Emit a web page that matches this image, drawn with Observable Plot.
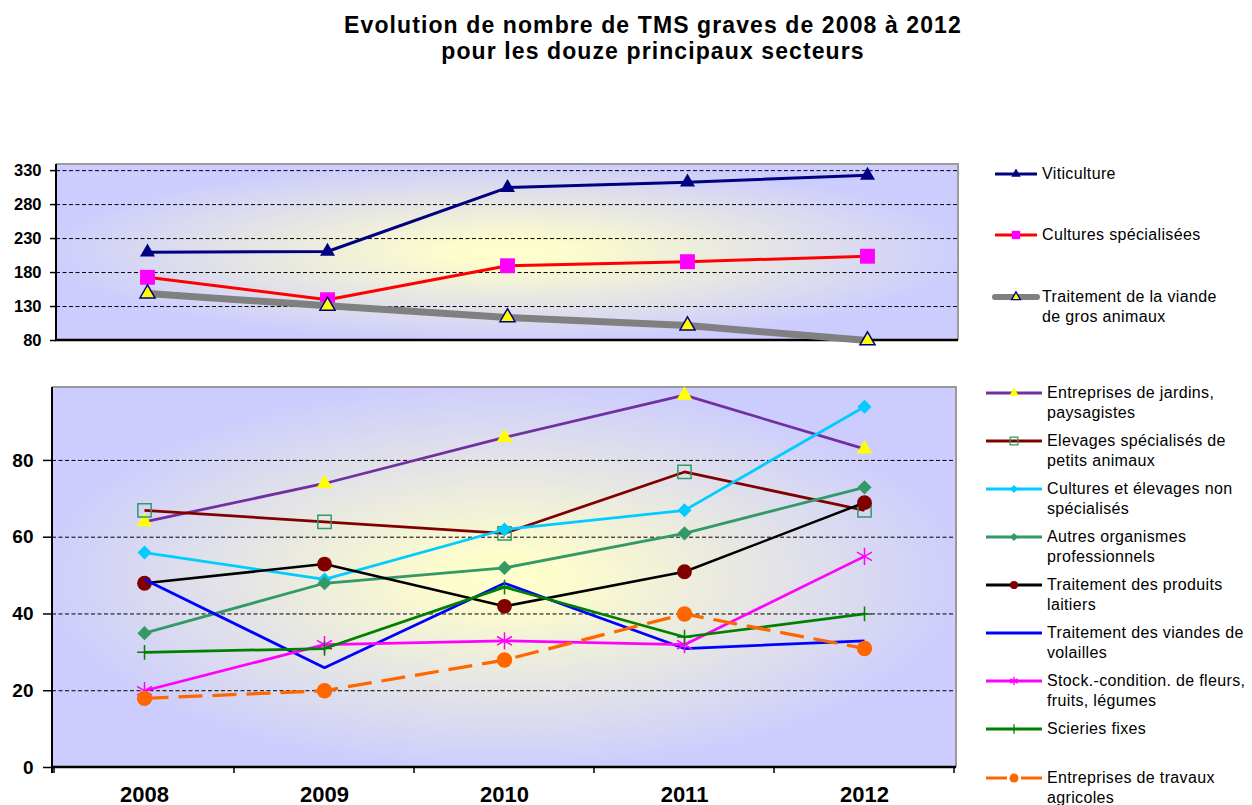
<!DOCTYPE html>
<html><head><meta charset="utf-8">
<script src="https://cdn.jsdelivr.net/npm/d3@7"></script>
<script src="https://cdn.jsdelivr.net/npm/@observablehq/plot@0.6"></script>
<style>
body{margin:0;background:#fff;overflow:hidden;}
#root{position:relative;width:1252px;height:805px;font-family:"Liberation Sans",Arial,sans-serif;color:#000;}
#title{position:absolute;left:153px;width:1000px;top:12px;text-align:center;font-weight:bold;font-size:23px;line-height:26px;letter-spacing:1.1px;}
.panel{position:absolute;left:0;}
.leg{position:absolute;font-size:16px;line-height:20px;letter-spacing:0.35px;white-space:pre-line;}
.leg svg{position:absolute;left:0;top:0;overflow:visible;}
</style></head><body><div id="root">
<div id="title">Evolution de nombre de TMS graves de 2008 à 2012<br>pour les douze principaux secteurs</div>
<div id="topPanel" class="panel" style="top:150px"></div>
<div id="bottomPanel" class="panel" style="top:370px"></div>
<div id="legends"></div>
</div>
<script>
const FONT = '"Liberation Sans", Arial, sans-serif';

// ---- data ----
const years = ["2008", "2009", "2010", "2011", "2012"];
const topTicks = [80, 130, 180, 230, 280, 330];
const bottomTicks = [0, 20, 40, 60, 80];
const topDomain = [80, 339];
const bottomDomain = [0, 99];

const topNames = ["Viticulture", "Cultures spécialisées", "Traitement de la viande\nde gros animaux"];
const viticulture = [210, 211, 305, 313, 323];
const culturesSpecialisees = [173, 140, 190, 196, 204];
const viandeGrosAnimaux = [149, 131, 114, 102, 80];

const bottomNames = [
  "Entreprises de jardins,\npaysagistes",
  "Elevages spécialisés de\npetits animaux",
  "Cultures et élevages non\nspécialisés",
  "Autres organismes\nprofessionnels",
  "Traitement des produits\nlaitiers",
  "Traitement des viandes de\nvolailles",
  "Stock.-condition. de fleurs,\nfruits, légumes",
  "Scieries fixes",
  "Entreprises de travaux\nagricoles"
];
const jardinsPaysagistes = [64, 74, 86, 97, 83];
const elevagesPetitsAnimaux = [67, 64, 61, 77, 67];
const culturesElevagesNonSpec = [56, 49, 62, 67, 94];
const autresOrganismes = [35, 48, 52, 61, 73];
const produitsLaitiers = [48, 53, 42, 51, 69];
const viandesVolailles = [49, 26, 48, 31, 33];
const stockFleursFruits = [20, 32, 33, 32, 55];
const scieriesFixes = [30, 31, 47, 34, 40];
const travauxAgricoles = [18, 20, 28, 40, 31];

const topValues = [viticulture, culturesSpecialisees, viandeGrosAnimaux];
const bottomValues = [jardinsPaysagistes, elevagesPetitsAnimaux, culturesElevagesNonSpec, autresOrganismes,
  produitsLaitiers, viandesVolailles, stockFleursFruits, scieriesFixes, travauxAgricoles];

// ---- styles ----
const topStyles = [
  {stroke: "#000080", sw: 3, symbol: "triangle", r: 5.6, fill: "#000080", ms: "none", msw: 0, legSize: 38, legSw: 3},
  {stroke: "#FF0000", sw: 3, symbol: "square", r: 8.4, fill: "#FF00FF", ms: "none", msw: 0, legSize: 70, legSw: 3},
  {stroke: "#808080", sw: 7, cap: "round", symbol: "triangle", r: 5.6, fill: "#FFFF00", ms: "#000080", msw: 1.5, legSize: 34, legSw: 6}
];
const bottomStyles = [
  {stroke: "#7030A0", sw: 2.75, symbol: "triangle", r: 5.8, fill: "#FFFF00", ms: "none", msw: 0, legSize: 38},
  {stroke: "#800000", sw: 2.75, symbol: "square", r: 7.5, fill: "none", ms: "#339966", msw: 1.5, legSize: 60},
  {stroke: "#00CCFF", sw: 2.75, symbol: "diamond2", r: 6.3, fill: "#00CCFF", ms: "none", msw: 0, legSize: 42},
  {stroke: "#339966", sw: 2.75, symbol: "diamond2", r: 6.4, fill: "#339966", ms: "none", msw: 0, legSize: 42},
  {stroke: "#000000", sw: 2.5, symbol: "circle", r: 7.4, fill: "#800000", ms: "none", msw: 0, legSize: 52},
  {stroke: "#0000FF", sw: 2.75},
  {stroke: "#FF00FF", sw: 2.75, symbol: "asterisk", r: 8.2, fill: "none", ms: "#FF00FF", msw: 1.5, legSize: 50},
  {stroke: "#008000", sw: 2.75, symbol: "plus", r: 4.8, fill: "none", ms: "#008000", msw: 1.5, legSize: 30},
  {stroke: "#FF6600", sw: 3.25, dash: "24,10", symbol: "circle", r: 7.7, fill: "#FF6600", ms: "none", msw: 0, legSize: 64, legDash: "21,14"}
];

// ---- helpers ----
function panelBackground(gradId) {
  return (index, scales, values, dims) => {
    const {width, height, marginLeft, marginRight, marginTop, marginBottom} = dims;
    const g = d3.create("svg:g");
    const grad = g.append("defs").append("radialGradient")
      .attr("id", gradId).attr("cx", "50%").attr("cy", "50%").attr("r", "52%");
    grad.append("stop").attr("offset", "0%").attr("stop-color", "#FFFFCC");
    grad.append("stop").attr("offset", "12%").attr("stop-color", "#FDFDCC");
    grad.append("stop").attr("offset", "100%").attr("stop-color", "#CCCCFF");
    g.append("rect").attr("x", marginLeft).attr("y", marginTop)
      .attr("width", width - marginLeft - marginRight).attr("height", height - marginTop - marginBottom)
      .attr("fill", `url(#${gradId})`);
    return g.node();
  };
}
function panelFrame(extendLeft) {
  return (index, scales, values, dims) => {
    const {width, height, marginLeft, marginRight, marginTop, marginBottom} = dims;
    const x0 = marginLeft, x1 = width - marginRight, y0 = marginTop, y1 = height - marginBottom;
    const g = d3.create("svg:g");
    g.append("path").attr("d", `M${x0},${y0}H${x1}V${y1}`).attr("fill", "none")
      .attr("stroke", "#9a9a9a").attr("stroke-width", 2);
    g.append("line").attr("x1", x0).attr("x2", x0).attr("y1", y0).attr("y2", y1 + extendLeft)
      .attr("stroke", "#000").attr("stroke-width", 2);
    g.append("line").attr("x1", x0 - 1).attr("x2", x1).attr("y1", y1).attr("y2", y1)
      .attr("stroke", "#000").attr("stroke-width", 2.5);
    return g.node();
  };
}
function boundaryTicks(index, scales, values, dims) {
  const pos = years.map(d => scales.x(d));
  const step = pos[1] - pos[0];
  const bounds = pos.map(p => p - step / 2).concat([pos[pos.length - 1] + step / 2]);
  const y1 = dims.height - dims.marginBottom;
  const g = d3.create("svg:g");
  g.selectAll("line").data(bounds).join("line")
    .attr("x1", d => d).attr("x2", d => d).attr("y1", y1).attr("y2", y1 + 6)
    .attr("stroke", "#000").attr("stroke-width", 1.5);
  return g.node();
}
function seriesMarks(values, st) {
  const data = years.map((year, i) => ({year, value: values[i]}));
  const marks = [Plot.line(data, {x: "year", y: "value", stroke: st.stroke, strokeWidth: st.sw,
    strokeDasharray: st.dash, strokeLinejoin: "round", strokeLinecap: st.cap || "butt"})];
  if (st.symbol) marks.push(Plot.dot(data, {x: "year", y: "value", symbol: st.symbol, r: st.r,
    fill: st.fill, stroke: st.ms, strokeWidth: st.msw}));
  return marks;
}

// ---- top panel ----
const topPlot = Plot.plot({
  width: 960, height: 200,
  marginLeft: 56, marginRight: 2, marginTop: 14, marginBottom: 10,
  x: {type: "point", domain: years, padding: 0.5, axis: null},
  y: {domain: topDomain, axis: null},
  style: {fontFamily: FONT, background: "transparent", overflow: "visible"},
  marks: [
    panelBackground("gradTop"),
    Plot.ruleY(topTicks.slice(1), {stroke: "#000", strokeWidth: 1, strokeDasharray: "4,2.5"}),
    panelFrame(0),
    Plot.axisY({ticks: topTicks, tickSize: 6, tickPadding: 9, tickFormat: d => String(d), label: null,
      fontSize: 16.5, fontWeight: "bold", stroke: "#000", strokeWidth: 1.5}),
    ...topValues.flatMap((v, i) => seriesMarks(v, topStyles[i]))
  ]
});
document.getElementById("topPanel").append(topPlot);

// ---- bottom panel ----
const bottomPlot = Plot.plot({
  width: 960, height: 435,
  marginLeft: 52, marginRight: 4, marginTop: 17, marginBottom: 38,
  x: {type: "point", domain: years, padding: 0.5},
  y: {domain: bottomDomain},
  style: {fontFamily: FONT, background: "transparent", overflow: "visible"},
  marks: [
    panelBackground("gradBottom"),
    Plot.ruleY(bottomTicks.slice(1), {stroke: "#000", strokeWidth: 1, strokeDasharray: "4,2.5"}),
    panelFrame(6),
    boundaryTicks,
    Plot.axisY({ticks: bottomTicks, tickSize: 9, tickPadding: 10, tickFormat: d => String(d), label: null,
      fontSize: 19, fontWeight: "bold", stroke: "#000", strokeWidth: 1.5}),
    Plot.axisX({tickSize: 0, tickPadding: 19, label: null, fontSize: 22, fontWeight: "bold"}),
    ...bottomValues.flatMap((v, i) => seriesMarks(v, bottomStyles[i]))
  ]
});
document.getElementById("bottomPanel").append(bottomPlot);

// ---- legends ----
const symbolTypes = {triangle: d3.symbolTriangle, square: d3.symbolSquare, diamond2: d3.symbolDiamond2,
  circle: d3.symbolCircle, asterisk: d3.symbolAsterisk, plus: d3.symbolPlus};
const legendsDiv = d3.select("#legends");
function legendEntry(name, st, left, top, swW, textLeft) {
  const div = legendsDiv.append("div").attr("class", "leg")
    .style("left", left + "px").style("top", (top - 10) + "px").style("padding-left", textLeft + "px");
  const svg = div.append("svg").attr("width", swW).attr("height", 20);
  svg.append("line").attr("x1", 0).attr("x2", swW).attr("y1", 10).attr("y2", 10)
    .attr("stroke", st.stroke).attr("stroke-width", st.legSw || 3)
    .attr("stroke-linecap", st.cap || "butt").attr("stroke-dasharray", st.legDash || null);
  if (st.symbol) {
    svg.append("path").attr("transform", `translate(${swW / 2},10)`)
      .attr("d", d3.symbol(symbolTypes[st.symbol], st.legSize)())
      .attr("fill", st.fill).attr("stroke", st.ms).attr("stroke-width", st.msw ? Math.min(st.msw, 1.3) : 0);
  }
  div.append("span").text(name);
}
topNames.forEach((n, i) => legendEntry(n, topStyles[i], 995, 174 + i * 61.3, 42, 47));
bottomNames.forEach((n, i) => legendEntry(n, bottomStyles[i], 986, 392.7 + i * 48.1, 56, 61));
</script>
</body></html>
